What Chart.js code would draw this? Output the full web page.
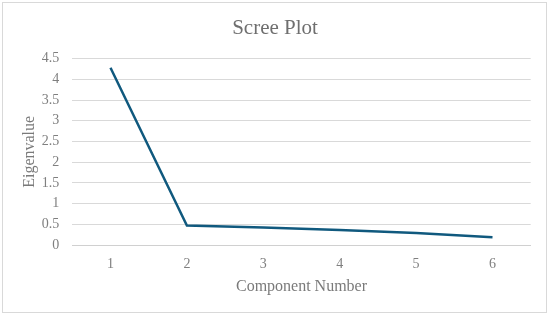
<!DOCTYPE html>
<html lang="en">
<head>
    <meta charset="UTF-8">
    <title>Scree Plot</title>
    <script src="https://cdn.jsdelivr.net/npm/chart.js"></script>
    <style>
        body {
            margin: 0;
            background-color: #ffffff;
        }
        .container {
            width: 550px;
            height: 316px;
        }
    </style>
</head>
<body>
    <div class="container">
        <canvas id="screeChart" width="550" height="316"></canvas>
    </div>

    <script>
        // Data
        const components = ['1', '2', '3', '4', '5', '6'];
        const eigenvalues = [4.28, 0.47, 0.42, 0.36, 0.29, 0.19];
        const yTicks = [0, 0.5, 1, 1.5, 2, 2.5, 3, 3.5, 4, 4.5];

        const chartTitle = 'Scree Plot';
        const serif = "'Liberation Serif', 'DejaVu Serif', serif";

        // Outer frame and centred title, drawn like the Excel chart box
        const framePlugin = {
            id: 'frame',
            beforeDraw(chart) {
                const ctx = chart.ctx;
                ctx.save();
                ctx.fillStyle = '#ffffff';
                ctx.fillRect(0, 0, chart.width, chart.height);
                ctx.strokeStyle = '#d9d9d9';
                ctx.lineWidth = 1;
                ctx.strokeRect(2.5, 2.5, 544, 310);
                ctx.restore();
            },
            afterDraw(chart) {
                const ctx = chart.ctx;
                ctx.save();
                ctx.fillStyle = '#6f6f6f';
                ctx.font = '21px ' + serif;
                ctx.textAlign = 'center';
                ctx.textBaseline = 'middle';
                ctx.fillText(chartTitle, chart.width / 2, 28);
                ctx.restore();
            }
        };

        const ctx = document.getElementById('screeChart').getContext('2d');

        new Chart(ctx, {
            type: 'line',
            data: {
                labels: components,
                datasets: [{
                    label: 'Eigenvalue',
                    data: eigenvalues,
                    borderColor: '#10597e',
                    borderWidth: 2.5,
                    pointRadius: 0,
                    tension: 0,
                    fill: false
                }]
            },
            options: {
                responsive: false,
                animation: false,
                layout: {
                    padding: { top: 58.7, right: 19.3, bottom: 0, left: 0 }
                },
                plugins: {
                    legend: { display: false },
                    title: { display: false },
                    tooltip: { enabled: false }
                },
                scales: {
                    x: {
                        offset: true,
                        grid: { display: false, drawTicks: false },
                        border: { display: true, color: '#d0d0d0', width: 1 },
                        ticks: {
                            color: '#7f7f7f',
                            font: { family: serif, size: 14 },
                            padding: 11
                        },
                        title: {
                            display: true,
                            text: 'Component Number',
                            color: '#7a7a7a',
                            font: { family: serif, size: 16 },
                            padding: { top: 0, bottom: 19.4 }
                        },
                        afterFit(scale) {
                            scale.height = 71;
                        }
                    },
                    y: {
                        min: 0,
                        max: 4.5,
                        afterBuildTicks(scale) {
                            scale.ticks = yTicks.map(v => ({ value: v }));
                        },
                        grid: { color: '#d9d9d9', lineWidth: 1, drawTicks: false },
                        border: { display: false },
                        ticks: {
                            color: '#7f7f7f',
                            font: { family: serif, size: 14 },
                            padding: 13,
                            callback: value => String(value)
                        },
                        title: {
                            display: true,
                            text: 'Eigenvalue',
                            color: '#7a7a7a',
                            font: { family: serif, size: 16 },
                            padding: { top: 20, bottom: 0 }
                        },
                        afterFit(scale) {
                            scale.width = 72.3;
                        }
                    }
                }
            },
            plugins: [framePlugin]
        });
    </script>
</body>
</html>
